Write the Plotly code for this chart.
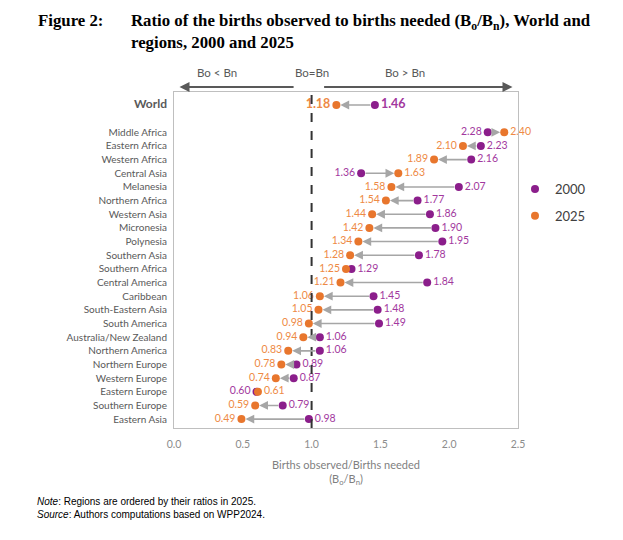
import plotly.graph_objects as go

# regions ordered by 2025 ratio (World on top)
regions = ["World", "Middle Africa", "Eastern Africa", "Western Africa", "Central Asia",
           "Melanesia", "Northern Africa", "Western Asia", "Micronesia", "Polynesia",
           "Southern Asia", "Southern Africa", "Central America", "Caribbean",
           "South-Eastern Asia", "South America", "Australia/New Zealand",
           "Northern America", "Northern Europe", "Western Europe", "Eastern Europe",
           "Southern Europe", "Eastern Asia"]
ratio_2000 = [1.46, 2.28, 2.23, 2.16, 1.36, 2.07, 1.77, 1.86, 1.90, 1.95, 1.78, 1.29,
              1.84, 1.45, 1.48, 1.49, 1.06, 1.06, 0.89, 0.87, 0.60, 0.79, 0.98]
ratio_2025 = [1.18, 2.40, 2.10, 1.89, 1.63, 1.58, 1.54, 1.44, 1.42, 1.34, 1.28, 1.25,
              1.21, 1.06, 1.05, 0.98, 0.94, 0.83, 0.78, 0.74, 0.61, 0.59, 0.49]
rows = [0] + list(range(2, len(regions) + 1))   # blank row under World

PURPLE, PURPLE_TXT = "#8B1E8B", "#A2389E"
ORANGE, ORANGE_TXT = "#E8762D", "#EE8A45"
GRAY = "#595959"

W, H = 623, 540
L, R, T, B = 174, 518, 92, 428


def px_x(px):
    return (px - L) / (R - L)


def px_y(py):
    return (B - py) / (B - T)


fig = go.Figure()

# arrows 2000 -> 2025
for v0, v1, r in zip(ratio_2000, ratio_2025, rows):
    fig.add_annotation(x=v1, y=r, ax=v0, ay=r, xref="x", yref="y", axref="x", ayref="y",
                       text="", showarrow=True, arrowhead=2, arrowsize=1.1,
                       arrowwidth=1.6, arrowcolor="#A6A6A6", standoff=4, startstandoff=3)


def labels(vals, other):
    txt, pos, size = [], [], []
    for i, (v, o) in enumerate(zip(vals, other)):
        txt.append(f"<b>{v:.2f}</b>" if i == 0 else f"{v:.2f}")
        pos.append("middle left" if v < o else "middle right")
        size.append(12.5 if i == 0 else 10.5)
    return txt, pos, size


t0, p0, s0 = labels(ratio_2000, ratio_2025)
t1, p1, s1 = labels(ratio_2025, ratio_2000)

fig.add_trace(go.Scatter(x=ratio_2000, y=rows, mode="markers+text", name="2000",
                         marker=dict(color=PURPLE, size=8), text=t0, textposition=p0,
                         textfont=dict(color=PURPLE_TXT, size=s0, family="Lato"),
                         legendgroup="a", cliponaxis=False))
fig.add_trace(go.Scatter(x=ratio_2025, y=rows, mode="markers+text", name="2025",
                         marker=dict(color=ORANGE, size=8), text=t1, textposition=p1,
                         textfont=dict(color=ORANGE_TXT, size=s1, family="Lato"),
                         legendgroup="b", cliponaxis=False))

# Bo = Bn reference line
fig.add_shape(type="line", x0=1, x1=1, y0=0, y1=1, xref="x", yref="paper",
              line=dict(color="#333333", width=2, dash="dash"))

# top direction arrows and labels
fig.add_annotation(x=0.04, y=px_y(87), ax=0.88, ay=0, xref="x", yref="paper",
                   axref="x", ayref="pixel", text="", showarrow=True, arrowhead=2,
                   arrowsize=1, arrowwidth=2, arrowcolor="#595959")
fig.add_annotation(x=2.46, y=px_y(87), ax=1.08, ay=0, xref="x", yref="paper",
                   axref="x", ayref="pixel", text="", showarrow=True, arrowhead=2,
                   arrowsize=1, arrowwidth=2, arrowcolor="#595959")
for txt, xv in [("Bo &lt; Bn", 0.31), ("Bo=Bn", 1.0), ("Bo &gt; Bn", 1.68)]:
    fig.add_annotation(x=xv, y=px_y(72), xref="x", yref="paper", yanchor="middle",
                       text=txt, showarrow=False,
                       font=dict(family="Lato", size=11.5, color=GRAY))

# title
fig.add_annotation(x=px_x(36), y=px_y(20), xref="paper", yref="paper", xanchor="left",
                   yanchor="middle", text="<b>Figure 2:</b>", showarrow=False,
                   font=dict(family="Liberation Serif", size=16.8, color="black"))
fig.add_annotation(x=px_x(129), y=px_y(9), xref="paper", yref="paper", xanchor="left",
                   yanchor="top", align="left",
                   text="<b>Ratio of the births observed to births needed (B<sub>o</sub>/B<sub>n</sub>), World and"
                        "<br>regions, 2000 and 2025</b>",
                   showarrow=False, font=dict(family="Liberation Serif", size=16.8, color="black"))

# notes
fig.add_annotation(x=px_x(35), y=px_y(508), xref="paper", yref="paper", xanchor="left",
                   yanchor="middle", align="left",
                   text="<i>Note</i>: Regions are ordered by their ratios in 2025.<br>"
                        "<i>Source</i>: Authors computations based on WPP2024.",
                   showarrow=False, font=dict(family="Liberation Sans", size=10, color="black"))

ticktext = ['<span style="font-size:12px"><b>World</b></span>'] + regions[1:]
fig.update_layout(
    width=W, height=H,
    margin=dict(l=L, r=W - R, t=T, b=H - B, autoexpand=False),
    plot_bgcolor="white", paper_bgcolor="white",
    xaxis=dict(range=[0, 2.5], dtick=0.5, tickformat=".1f", showgrid=False, zeroline=False,
               showline=True, mirror=True, linecolor="#BFBFBF", linewidth=1,
               ticklabelstandoff=6,
               tickfont=dict(family="Lato", size=10.5, color="#8C8C8C"),
               title=dict(text="Births observed/Births needed<br>(B<sub>o</sub>/B<sub>n</sub>)",
                          font=dict(family="Lato", size=11, color="#7F7F7F"), standoff=12)),
    yaxis=dict(range=[23.65, -0.95], tickvals=rows, ticktext=ticktext, showgrid=False,
               zeroline=False, showline=True, mirror=True, linecolor="#BFBFBF", linewidth=1,
               ticks="", ticklabelstandoff=4,
               tickfont=dict(family="Lato", size=10, color=GRAY)),
    legend=dict(x=px_x(515), y=px_y(174), xanchor="left", yanchor="top",
                font=dict(family="Lato", size=13, color="#404040"),
                tracegroupgap=7, itemwidth=30, bgcolor="rgba(0,0,0,0)"),
    showlegend=True,
)

fig.write_html("out.html", post_script="document.body.style.margin='0';",
               config={"displayModeBar": False})
